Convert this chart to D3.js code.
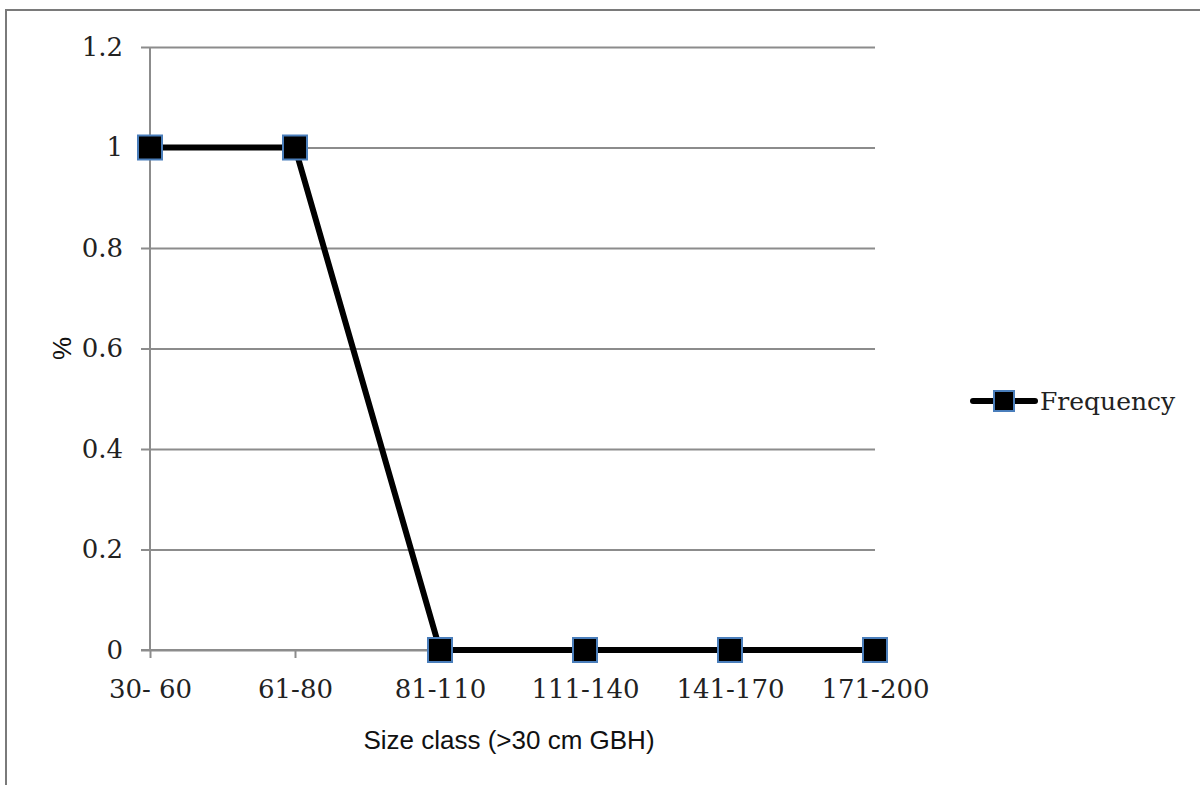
<!DOCTYPE html>
<html>
<head>
<meta charset="utf-8">
<script src="https://cdn.jsdelivr.net/npm/d3@7"></script>
<style>
  html, body { margin: 0; padding: 0; background: #fff; }
  svg { display: block; }
</style>
</head>
<body>
<svg id="chart" width="1200" height="785"></svg>
<script>
// Size-class distribution (% of stems by girth class)
const categories = ["30- 60", "61-80", "81-110", "111-140", "141-170", "171-200"];
const frequency = [1, 1, 0, 0, 0, 0];
const yTicks = [0, 0.2, 0.4, 0.6, 0.8, 1, 1.2];
const seriesName = "Frequency";
const xTitle = "Size class (>30 cm GBH)";
const yTitle = "%";

const svg = d3.select("#chart");
const W = 1200, H = 785;

const serif = "'DejaVu Serif', 'Liberation Serif', serif";
const sans = "'Liberation Sans', Arial, sans-serif";

// chart frame
svg.append("rect")
  .attr("x", 6).attr("y", 10)
  .attr("width", W + 10).attr("height", H + 10)
  .attr("fill", "#fff")
  .attr("stroke", "#7a7a7a").attr("stroke-width", 2);

const plot = { left: 150, right: 875, top: 47, bottom: 650 };

const x = d3.scalePoint()
  .domain(categories)
  .range([plot.left, plot.right]);

const y = d3.scaleLinear()
  .domain([0, 1.2])
  .range([plot.bottom, plot.top]);

// horizontal gridlines with left tick marks
const yAxis = d3.axisLeft(y)
  .tickValues(yTicks)
  .tickSize(-(plot.right - plot.left))
  .tickPadding(27)
  .tickFormat(d => d3.format("")(+d.toFixed(1)));

const gy = svg.append("g")
  .attr("transform", `translate(${plot.left},0)`)
  .call(yAxis);
gy.select(".domain").remove();
gy.selectAll(".tick line")
  .attr("x1", -9)
  .attr("stroke", "#8c8c8c").attr("stroke-width", 2);
gy.selectAll(".tick text")
  .attr("font-family", serif).attr("font-size", 26)
  .attr("fill", "#222");

// vertical axis line
svg.append("line")
  .attr("x1", plot.left).attr("x2", plot.left)
  .attr("y1", plot.top).attr("y2", plot.bottom)
  .attr("stroke", "#8c8c8c").attr("stroke-width", 2);

// category axis
const xAxis = d3.axisBottom(x)
  .tickSize(8)
  .tickPadding(22)
  .tickSizeOuter(0);
const gx = svg.append("g")
  .attr("transform", `translate(0,${plot.bottom})`)
  .call(xAxis);
gx.select(".domain")
  .attr("d", `M${plot.left - 9},0H${plot.right}`)
  .attr("stroke", "#8c8c8c").attr("stroke-width", 2);
gx.selectAll(".tick line")
  .attr("stroke", "#8c8c8c").attr("stroke-width", 2);
gx.selectAll(".tick text")
  .attr("font-family", serif).attr("font-size", 26)
  .attr("fill", "#222");

// axis titles
svg.append("text")
  .attr("x", 509)
  .attr("y", 749)
  .attr("text-anchor", "middle")
  .attr("font-family", sans).attr("font-size", 26)
  .attr("fill", "#111")
  .text(xTitle);

svg.append("text")
  .attr("transform", `translate(71,${y(0.6)}) rotate(-90)`)
  .attr("text-anchor", "middle")
  .attr("font-family", sans).attr("font-size", 26)
  .attr("fill", "#111")
  .text(yTitle);

// series line
const line = d3.line()
  .x((d, i) => x(categories[i]))
  .y(d => y(d));

svg.append("path")
  .datum(frequency)
  .attr("d", line)
  .attr("fill", "none")
  .attr("stroke", "#000")
  .attr("stroke-width", 6)
  .attr("stroke-linejoin", "round");

// square markers
const ms = 24;
svg.selectAll("rect.marker")
  .data(frequency)
  .join("rect")
  .attr("class", "marker")
  .attr("x", (d, i) => x(categories[i]) - ms / 2)
  .attr("y", d => y(d) - ms / 2)
  .attr("width", ms).attr("height", ms)
  .attr("fill", "#000")
  .attr("stroke", "#4a7ebb").attr("stroke-width", 2);

// legend
const lg = svg.append("g").attr("transform", "translate(973,401)");
lg.append("line")
  .attr("x1", 0).attr("x2", 62)
  .attr("stroke", "#000").attr("stroke-width", 6)
  .attr("stroke-linecap", "round");
lg.append("rect")
  .attr("x", 31 - 10).attr("y", -10)
  .attr("width", 20).attr("height", 20)
  .attr("fill", "#000")
  .attr("stroke", "#4a7ebb").attr("stroke-width", 2);
lg.append("text")
  .attr("x", 67).attr("y", 0)
  .attr("dy", "0.35em")
  .attr("font-family", serif).attr("font-size", 25)
  .attr("fill", "#222")
  .text(seriesName);
</script>
</body>
</html>
